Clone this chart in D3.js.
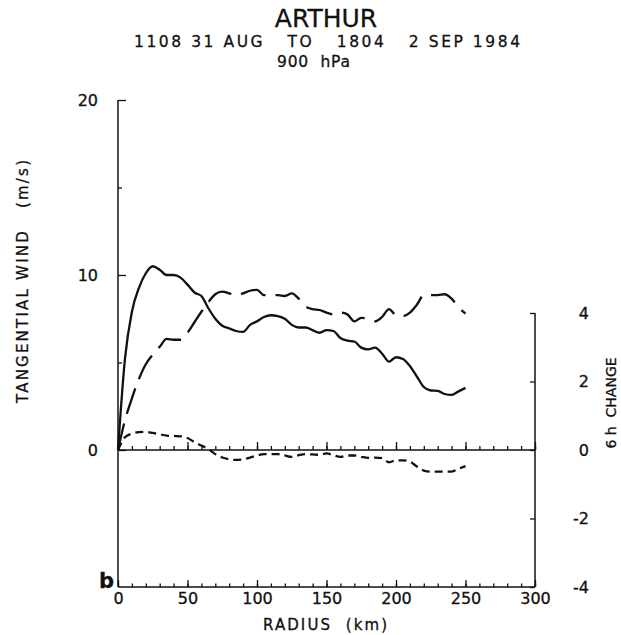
<!DOCTYPE html>
<html>
<head>
  <script src="https://d3js.org/d3.v7.min.js"></script>
  <style>
    body { margin: 0; background: #ffffff; }
    text { font-family: 'DejaVu Sans', sans-serif; fill: #111; stroke: #111; stroke-width: 0.3; }
    .axis path { display: none; }
    .axis line { stroke: #111; stroke-width: 1.3; }
    .axis text { font-size: 16px; font-family: 'DejaVu Sans', sans-serif; fill: #111; }
    .curve { fill: none; stroke: #111; stroke-width: 2.3; }
  </style>
</head>
<body>
<div id="chart"></div>
<script>
  // radius (km) where the curves were read
  var radius = [0, 5, 10, 15, 20, 25, 30, 35, 40, 45, 50, 55, 60, 65, 70, 75, 80, 85, 90, 95,
    100, 105, 110, 115, 120, 125, 130, 135, 140, 145, 150, 155, 160, 165, 170, 175, 180, 185, 190, 195,
    200, 205, 210, 215, 220, 225, 230, 235, 240, 245, 250];

  // tangential wind (m/s), solid
  var windSolid = [0, 5.2, 7.9, 9.25, 10.1, 10.5, 10.3, 10.0, 10.0, 9.85, 9.45, 9.0, 8.8, 8.1, 7.5, 7.1, 6.95, 6.8, 6.75, 7.15,
    7.35, 7.6, 7.7, 7.65, 7.5, 7.15, 7.0, 7.0, 6.85, 6.7, 6.85, 6.8, 6.4, 6.25, 6.2, 5.85, 5.75, 5.85, 5.5, 5.05,
    5.3, 5.2, 4.8, 4.2, 3.6, 3.4, 3.38, 3.2, 3.15, 3.35, 3.55];

  // tangential wind (m/s), long dashed
  var windDashed = [0, 1.7, 2.95, 4.05, 4.9, 5.45, 5.9, 6.35, 6.3, 6.3, 6.7, 7.3, 7.9, 8.45, 8.9, 9.05, 8.95, 8.85, 8.95, 9.1,
    9.15, 8.85, 8.85, 8.85, 8.8, 8.95, 8.65, 8.2, 8.05, 8.0, 7.85, 7.75, 7.85, 7.75, 7.35, 7.55, 7.5, 7.35, 7.6, 8.05,
    7.7, 7.65, 7.85, 8.3, 8.85, 8.85, 8.85, 8.9, 8.65, 8.15, 7.8];

  // 6 h change (m/s), short dashed, right axis
  var change6h = [0, 0.37, 0.48, 0.52, 0.53, 0.5, 0.46, 0.42, 0.41, 0.4, 0.35, 0.23, 0.13, 0.03, -0.12, -0.22, -0.27, -0.29, -0.27, -0.22,
    -0.16, -0.12, -0.12, -0.12, -0.16, -0.2, -0.15, -0.12, -0.13, -0.14, -0.1, -0.15, -0.2, -0.16, -0.16, -0.2, -0.23, -0.22, -0.24, -0.36,
    -0.3, -0.3, -0.34, -0.48, -0.6, -0.63, -0.63, -0.63, -0.63, -0.55, -0.47];

  var xMajor = [0, 50, 100, 150, 200, 250, 300];
  var leftTicks = [0, 10, 20];
  var leftMinor = [5, 15];
  var rightTicks = [-4, -2, 0, 2, 4];

  var width = 621, height = 635;

  var svg = d3.select("#chart").append("svg")
    .attr("width", width)
    .attr("height", height);

  var x = d3.scaleLinear().domain([0, 300]).range([118, 535]);
  var yL = d3.scaleLinear().domain([0, 20]).range([450, 100]);
  var yR = d3.scaleLinear().domain([-4, 4]).range([587, 313]);
  var bottomY = yR(-4);

  var minorX = d3.range(0, 301, 10);

  // frame lines
  svg.append("line")
    .attr("x1", x(0)).attr("x2", x(0))
    .attr("y1", yL(20)).attr("y2", bottomY)
    .attr("stroke", "#111").attr("stroke-width", 1.5);
  svg.append("line")
    .attr("x1", x(300)).attr("x2", x(300))
    .attr("y1", yR(4)).attr("y2", bottomY)
    .attr("stroke", "#111").attr("stroke-width", 1.5);
  svg.append("line")
    .attr("x1", x(0)).attr("x2", x(300))
    .attr("y1", bottomY).attr("y2", bottomY)
    .attr("stroke", "#111").attr("stroke-width", 1.5);
  svg.append("line")
    .attr("x1", x(0)).attr("x2", x(300))
    .attr("y1", yL(0)).attr("y2", yL(0))
    .attr("stroke", "#111").attr("stroke-width", 1.5);

  // left axis
  svg.append("g")
    .attr("class", "axis")
    .attr("transform", "translate(" + x(0) + ",0)")
    .call(d3.axisLeft(yL).tickValues(leftTicks).tickSize(-8).tickPadding(20));
  svg.append("g")
    .attr("class", "axis")
    .attr("transform", "translate(" + x(0) + ",0)")
    .call(d3.axisLeft(yL).tickValues(leftMinor).tickSize(-4).tickFormat(""));

  // bottom axis
  svg.append("g")
    .attr("class", "axis")
    .attr("transform", "translate(0," + bottomY + ")")
    .call(d3.axisBottom(x).tickValues(minorX).tickSize(-3.5).tickFormat(""));
  svg.append("g")
    .attr("class", "axis")
    .attr("transform", "translate(0," + bottomY + ")")
    .call(d3.axisBottom(x).tickValues(xMajor).tickSize(-7).tickPadding(6));

  // zero line ticks
  svg.append("g")
    .attr("class", "axis")
    .attr("transform", "translate(0," + yL(0) + ")")
    .call(d3.axisBottom(x).tickValues(minorX).tickSize(-4).tickFormat(""));
  svg.append("g")
    .attr("class", "axis")
    .attr("transform", "translate(0," + yL(0) + ")")
    .call(d3.axisBottom(x).tickValues(xMajor).tickSize(-8).tickFormat(""));

  // right axis
  var rightAxis = svg.append("g")
    .attr("class", "axis")
    .attr("transform", "translate(" + x(300) + ",0)")
    .call(d3.axisRight(yR).tickValues(rightTicks).tickSize(-5)
      .tickFormat(function (d) { return d < 0 ? "-" + Math.abs(d) : d; }));
  rightAxis.selectAll("text")
    .attr("x", 54)
    .attr("text-anchor", "end");

  // curves
  function makeLine(values, yScale) {
    return d3.line()
      .x(function (d, i) { return x(radius[i]); })
      .y(function (d) { return yScale(d); })
      .curve(d3.curveMonotoneX)(values);
  }

  svg.append("path")
    .attr("class", "curve")
    .attr("d", makeLine(windSolid, yL));

  svg.append("path")
    .attr("class", "curve")
    .attr("stroke-dasharray", "27,10")
    .attr("d", makeLine(windDashed, yL));

  svg.append("path")
    .attr("class", "curve")
    .attr("stroke-dasharray", "8,5")
    .attr("d", makeLine(change6h, yR));

  // titles
  svg.append("text")
    .attr("x", 326).attr("y", 27)
    .attr("text-anchor", "middle")
    .style("font-size", "25px")
    .text("ARTHUR");

  svg.append("text")
    .attr("x", 134).attr("y", 47)
    .attr("textLength", 386)
    .attr("lengthAdjust", "spacing")
    .style("font-size", "15.5px")
    .style("white-space", "pre")
    .text("1108 31 AUG   TO   1804   2 SEP 1984");

  svg.append("text")
    .attr("x", 277).attr("y", 67)
    .attr("textLength", 73)
    .attr("lengthAdjust", "spacing")
    .style("font-size", "15.5px")
    .style("white-space", "pre")
    .text("900  hPa");

  // axis titles
  svg.append("text")
    .attr("x", 325).attr("y", 630)
    .attr("text-anchor", "middle")
    .attr("textLength", 124)
    .attr("lengthAdjust", "spacing")
    .style("font-size", "15px")
    .style("white-space", "pre")
    .text("RADIUS  (km)");

  svg.append("text")
    .attr("transform", "translate(28,403) rotate(-90)")
    .attr("textLength", 243)
    .attr("lengthAdjust", "spacing")
    .style("font-size", "15px")
    .style("white-space", "pre")
    .text("TANGENTIAL WIND   (m/s)");

  svg.append("text")
    .attr("transform", "translate(616,403) rotate(-90)")
    .attr("text-anchor", "middle")
    .style("font-size", "14px")
    .style("white-space", "pre")
    .text("6 h  CHANGE");

  svg.append("text")
    .attr("x", 99).attr("y", 588)
    .style("font-size", "21px")
    .style("font-weight", "bold")
    .text("b");
</script>
</body>
</html>
